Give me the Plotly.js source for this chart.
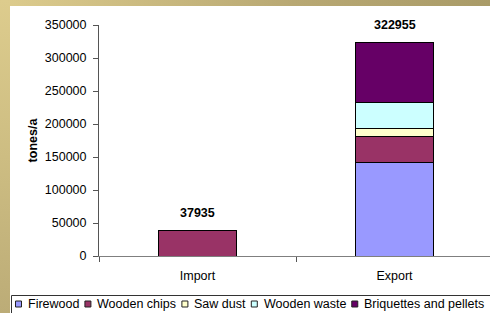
<!DOCTYPE html>
<html>
<head>
<meta charset="utf-8">
<script src="https://cdn.plot.ly/plotly-3.0.1.min.js"></script>
<style>
  html, body { margin: 0; padding: 0; width: 490px; height: 313px; overflow: hidden; background: #fff; }
  #topband { position: absolute; left: 0; top: 0; width: 490px; height: 6px; z-index: 2;
    background: linear-gradient(to right, #ddcc8d, #b8a873 60%, #a99b68); }
  #leftband { position: absolute; left: 0; top: 0; width: 10px; height: 313px; z-index: 2;
    background: linear-gradient(to bottom, #ddcc8d, #cdbd82 50%, #bcac77); }
  #chart { position: absolute; left: 10px; top: 6px; width: 494px; height: 320px; }
</style>
</head>
<body>
<div id="topband"></div>
<div id="leftband"></div>
<div id="chart"></div>
<script>
// ---- data ----
const categories = ["Import", "Export"];
const seriesNames = ["Firewood", "Wooden chips", "Saw dust", "Wooden waste", "Briquettes and pellets"];
const firewood = [null, 141000];
const woodenChips = [37935, 39500];
const sawDust = [null, 13000];
const woodenWaste = [null, 38500];
const briquettesPellets = [null, 90955];
const seriesColors = ["#9999FF", "#993366", "#FFFFCC", "#CCFFFF", "#660066"];
const yTickValues = [0, 50000, 100000, 150000, 200000, 250000, 300000, 350000];

const seriesValues = [firewood, woodenChips, sawDust, woodenWaste, briquettesPellets];
const totals = categories.map((c, i) => seriesValues.reduce((s, arr) => s + (arr[i] || 0), 0));

const FONT = "Liberation Sans, Arial, sans-serif";
const FS = 12.5;
const W = 494, H = 320, ML = 89, MT = 19, PW = 394, PH = 231;

// pixel (in chart div) -> paper coords
const px2x = px => (px - ML) / PW;
const py2y = py => (MT + PH - py) / PH;

const traces = seriesValues.map((vals, k) => ({
  type: "bar",
  name: seriesNames[k],
  x: categories,
  y: vals,
  marker: { color: seriesColors[k], line: { color: "#000000", width: 1 } },
  hoverinfo: "x+y+name"
}));

const annotations = categories.map((c, i) => ({
  x: c, y: totals[i], xref: "x", yref: "y",
  text: "<b>" + totals[i] + "</b>",
  showarrow: false, yanchor: "bottom", yshift: 9,
  font: { family: FONT, size: FS, color: "#000" }
}));

// ---- legend (single row, boxed, running off the right edge like the reference) ----
const shapes = [];
const ctx = document.createElement("canvas").getContext("2d");
ctx.font = FS + "px 'Liberation Sans', Arial, sans-serif";
const boxLeft = 1, boxTop = 289, rowMid = 298;
shapes.push({
  type: "rect", xref: "paper", yref: "paper", layer: "above",
  x0: px2x(boxLeft + 0.5), x1: px2x(W + 20), y0: py2y(boxTop + 0.5), y1: py2y(H + 20),
  line: { color: "#333333", width: 1 }, fillcolor: "rgba(255,255,255,1)"
});
let cursor = boxLeft + 4;
seriesNames.forEach((name, k) => {
  const sx = cursor;
  shapes.push({
    type: "rect", xref: "paper", yref: "paper", layer: "above",
    x0: px2x(sx + 0.5), x1: px2x(sx + 6.5), y0: py2y(rowMid - 3), y1: py2y(rowMid + 3),
    line: { color: "#222222", width: 1 }, fillcolor: seriesColors[k]
  });
  const tx = sx + 13;
  annotations.push({
    xref: "paper", yref: "paper", x: px2x(tx), y: py2y(rowMid),
    xanchor: "left", yanchor: "middle", showarrow: false,
    borderpad: 0, borderwidth: 0,
    text: name, font: { family: FONT, size: FS, color: "#000" }
  });
  cursor = tx + ctx.measureText(name).width + 5;
});

const layout = {
  width: W, height: H,
  margin: { l: ML, r: W - ML - PW, t: MT, b: H - MT - PH },
  paper_bgcolor: "#ffffff",
  plot_bgcolor: "#ffffff",
  barmode: "stack",
  bargap: 0.6,
  font: { family: FONT, size: FS, color: "#000" },
  showlegend: false,
  xaxis: {
    type: "category",
    showline: true, linecolor: "#7f7f7f", linewidth: 1,
    ticks: "outside", tickson: "boundaries", ticklen: 5, tickcolor: "#555",
    ticklabelstandoff: 8,
    showgrid: false, zeroline: false,
    tickfont: { family: FONT, size: FS, color: "#000" }
  },
  yaxis: {
    range: [0, 350000],
    tickvals: yTickValues,
    ticktext: yTickValues.map(String),
    showline: true, linecolor: "#555", linewidth: 1,
    ticks: "outside", ticklen: 5, tickcolor: "#555",
    ticklabelstandoff: 4,
    showgrid: false, zeroline: false,
    tickfont: { family: FONT, size: FS, color: "#000" },
    title: { text: "<b>tones/a</b>", font: { family: FONT, size: FS, color: "#000" }, standoff: 4 }
  },
  shapes: shapes,
  annotations: annotations
};

Plotly.newPlot("chart", traces, layout, { displayModeBar: false, staticPlot: true });
</script>
</body>
</html>
